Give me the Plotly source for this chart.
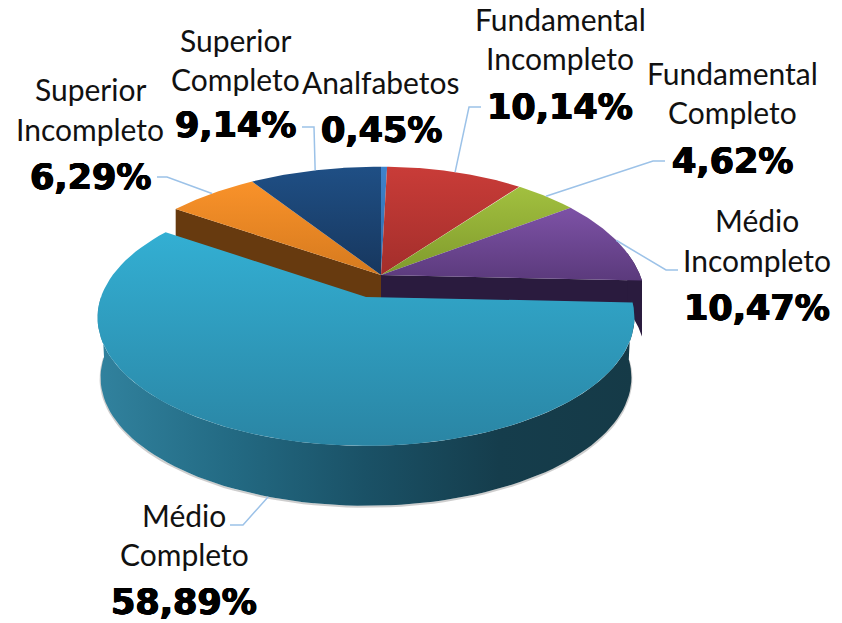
import numpy as np
import plotly.graph_objects as go

# ---- data (clockwise from 12 o'clock) ----
categories = ["Analfabetos", "Fundamental Incompleto", "Fundamental Completo",
              "Médio Incompleto", "Médio Completo", "Superior Incompleto", "Superior Completo"]
values = [0.45, 10.14, 4.62, 10.47, 58.89, 6.29, 9.14]
value_labels = ["0,45%", "10,14%", "4,62%", "10,47%", "58,89%", "6,29%", "9,14%"]

# ---- styling ----
top_colors = [("#3f83cc", "#2f6aa8"), ("#c93c38", "#a32e2b"), ("#a2c03f", "#7f9a2c"),
              ("#7d52a6", "#5b3a7c"), ("#33afd3", "#2a85a4"), ("#f9922a", "#d67a1e"),
              ("#1f4f85", "#17375e")]
WALL_BROWN, WALL_PURPLE = "#673a0f", "#2a1b3e"
LEADER = "#9cc2e8"
BODY_FONT = "Lato"
NUM_FONT = "DejaVu Sans"

# geometry of the projected disc: apex, radii, perspective, left-side stretch
BACK = dict(cx=381, cy=275, rx=259, ry=130, p=0.20, left=1.07)
FRONT = dict(cx=366, cy=297, rx=265, ry=125, p=0.16, left=1.0)
FRONT_BASE = dict(cx=366, cy=357, rx=262, ry=125, p=0.16, left=1.0)
BACK_DEPTH = 23

def rim(g, theta):
    u, v = np.sin(theta), np.cos(theta)
    d = 1 + g["p"] * v
    return g["cx"] + g["rx"] * u * np.where(u < 0, g["left"], 1.0) / d, g["cy"] - g["ry"] * v / d

edges = np.cumsum([0] + values) / sum(values) * 2 * np.pi
arc = lambda a, b: np.linspace(a, b, 90)

fig = go.Figure()

def poly(x, y, colors=None, kind="vertical", flat=None):
    kw = dict(x=list(x) + [x[0]], y=list(y) + [y[0]], mode="lines", fill="toself",
              line=dict(width=0), hoverinfo="skip", showlegend=False)
    if flat:
        kw["fillcolor"] = flat
    else:
        seq = colors[::-1] if kind == "vertical" else colors
        n = len(seq) - 1
        kw["fillgradient"] = dict(type=kind,
                                  colorscale=[[i / n, c] for i, c in enumerate(seq)])
        kw["fillcolor"] = colors[0]
    fig.add_trace(go.Scatter(**kw))

FRONT_I = categories.index("Médio Completo")

# cut walls of the back part of the disc
ax, ay = BACK["cx"], BACK["cy"]
ex, ey = rim(BACK, edges[FRONT_I + 1])
poly([ax, ex, ex, ax], [ay, ey, ey + BACK_DEPTH + 8, ay + BACK_DEPTH + 6], flat=WALL_BROWN)
ex, ey = rim(BACK, edges[FRONT_I])
poly([ax, ex, ex, ax], [ay, ey, ey + BACK_DEPTH, ay + BACK_DEPTH], flat=WALL_PURPLE)
t = arc(edges[FRONT_I] - 0.22, edges[FRONT_I])
rx_, ry_ = rim(BACK, t)
poly(list(rx_) + list(rx_[::-1]), list(ry_) + list(ry_[::-1] + 56), flat=WALL_PURPLE)

# top faces of the back slices
for i in range(len(values)):
    if i == FRONT_I:
        continue
    x, y = rim(BACK, arc(edges[i], edges[i + 1]))
    poly([ax] + list(x), [ay] + list(y), colors=[top_colors[i][0], top_colors[i][1]])

# pulled-out slice: outer wall then top
t = arc(np.pi / 2 + 0.02, 1.5 * np.pi)
tx, ty = rim(FRONT, t)
bx, by = rim(FRONT_BASE, t)
fig.add_trace(go.Scatter(x=bx, y=by + 1, mode="lines", line=dict(color="rgba(60,60,60,0.25)", width=2),
                         hoverinfo="skip", showlegend=False))
poly(list(tx) + list(bx[::-1]), list(ty) + list(by[::-1]),
     colors=["#31829e", "#236a83", "#1a5166", "#153d4c", "#153a47"], kind="horizontal")

x, y = rim(FRONT, arc(edges[FRONT_I], edges[FRONT_I + 1]))
poly([FRONT["cx"]] + list(x), [FRONT["cy"]] + list(y),
     colors=[top_colors[FRONT_I][0], top_colors[FRONT_I][1]])

# leader lines: (label end x, y, elbow dx) start on the rim of each slice
leaders = {
    "Superior Completo": (302, 127, 12),
    "Superior Incompleto": (157, 177, 10),
    "Fundamental Incompleto": (481, 107, -12),
    "Fundamental Completo": (665, 161, -12),
    "Médio Incompleto": (678, 270, -12),
    "Médio Completo": (230, 525, 13),
}
for name, (lx, ly, dx) in leaders.items():
    i = categories.index(name)
    mid = (edges[i] + edges[i + 1]) / 2
    px, py = rim(FRONT_BASE if i == FRONT_I else BACK, mid)
    fig.add_trace(go.Scatter(x=[lx, lx + dx, float(px)], y=[ly, ly, float(py)], mode="lines",
                             line=dict(color=LEADER, width=1.5), hoverinfo="skip", showlegend=False))

# labels: centre x and the y of each text line
label_pos = {
    "Superior Completo": (235, ["Superior", "Completo"], [39.5, 78.5], 125),
    "Superior Incompleto": (90, ["Superior", "Incompleto"], [88.5, 128.5], 177),
    "Analfabetos": (381, ["Analfabetos"], [81.5], 130),
    "Fundamental Incompleto": (560, ["Fundamental", "Incompleto"], [18.5, 57.5], 107),
    "Fundamental Completo": (732, ["Fundamental", "Completo"], [72.5, 111.5], 161),
    "Médio Incompleto": (757, ["Médio", "Incompleto"], [219.5, 259.5], 308),
    "Médio Completo": (184, ["Médio", "Completo"], [514.5, 553.5], 602),
}
THICK = "0.7px 0 0 #000, -0.7px 0 0 #000, 0 0.4px 0 #000, 0 -0.4px 0 #000"
for name, (cx, lines, ys, vy) in label_pos.items():
    for line, yy in zip(lines, ys):
        fig.add_annotation(x=cx, y=yy, text=line, showarrow=False, xanchor="center", yanchor="middle",
                           font=dict(family=BODY_FONT, size=30, color="#111111"))
    fig.add_annotation(x=cx, y=vy, text="<b>" + value_labels[categories.index(name)] + "</b>",
                       showarrow=False, xanchor="center", yanchor="middle",
                       font=dict(family=NUM_FONT, size=35, color="#000000", shadow=THICK))

fig.update_layout(width=842, height=623, margin=dict(l=0, r=0, t=0, b=0),
                  paper_bgcolor="white", plot_bgcolor="white", showlegend=False,
                  xaxis=dict(range=[0, 842], visible=False, fixedrange=True),
                  yaxis=dict(range=[623, 0], visible=False, fixedrange=True))
fig.write_html("out.html", config=dict(displayModeBar=False),
               post_script="document.body.style.margin='0';document.body.style.overflow='hidden';")
